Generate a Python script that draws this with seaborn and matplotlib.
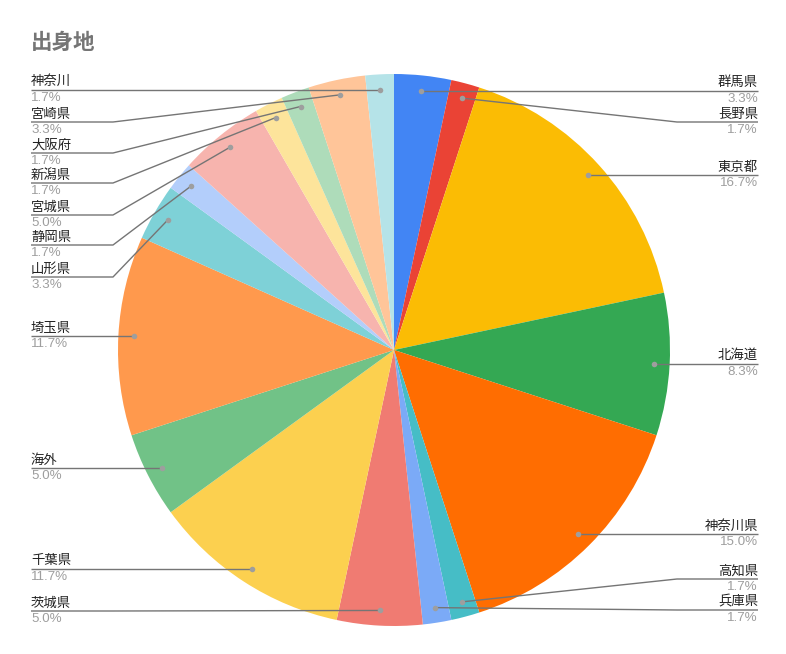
import matplotlib
matplotlib.use("Agg")
import matplotlib.pyplot as plt
import seaborn as sns
import numpy as np

sns.set_theme(style="white")
plt.rcParams['font.family'] = ['Noto Sans CJK JP', 'DejaVu Sans']

# ---- data ----
labels = ["群馬県", "長野県", "東京都", "北海道", "神奈川県", "高知県", "兵庫県", "茨城県",
          "千葉県", "海外", "埼玉県", "山形県", "静岡県", "宮城県", "新潟県", "大阪府",
          "宮崎県", "神奈川"]
counts = [2, 1, 10, 5, 9, 1, 1, 3, 7, 3, 7, 2, 1, 3, 1, 1, 2, 1]
pct_text = ["3.3%", "1.7%", "16.7%", "8.3%", "15.0%", "1.7%", "1.7%", "5.0%",
            "11.7%", "5.0%", "11.7%", "3.3%", "1.7%", "5.0%", "1.7%", "1.7%",
            "3.3%", "1.7%"]
title = "出身地"

# ---- style / layout ----
colors = ["#4285F4", "#EA4335", "#FBBC04", "#34A853", "#FF6D01", "#46BDC6", "#7BAAF7",
          "#F07B72", "#FCD04F", "#71C287", "#FF994D", "#7ED1D7", "#B3CEFB", "#F7B4AE",
          "#FDE49B", "#AEDCBA", "#FFC599", "#B5E3E8"]
# label line y (pixels from top); None = level with the slice's dot
label_y_px = [None, 122, None, None, None, 579, 610, 611, None, None, None, 277, 245,
              215, 183, 153, 122, None]
side = ["R", "R", "R", "R", "R", "R", "R", "L", "L", "L", "L", "L", "L", "L", "L",
        "L", "L", "L"]

W, H = 786, 654
fig = plt.figure(figsize=(W / 100, H / 100), dpi=100)
ax = fig.add_axes([0, 0, 1, 1])

cx, cy, R = 394, H - 350, 276
wedges, _ = ax.pie(counts, colors=colors, startangle=90, counterclock=False,
                   center=(cx, cy), radius=R, frame=True,
                   wedgeprops=dict(linewidth=0))
ax.set_xlim(0, W)
ax.set_ylim(0, H)
ax.axis("off")

line_col = "#757575"
for w, lab, pt, ly, sd in zip(wedges, labels, pct_text, label_y_px, side):
    mid = np.deg2rad((w.theta1 + w.theta2) / 2)
    dx = cx + 0.945 * R * np.cos(mid)
    dy = cy + 0.945 * R * np.sin(mid)
    y = dy if ly is None else H - ly
    if sd == "R":
        bend, edge, ha = 677, 758, "right"
    else:
        bend, edge, ha = 113, 31, "left"
    ax.plot([dx, bend, edge], [dy, y, y], color=line_col, lw=1.0, zorder=3,
            solid_capstyle="butt")
    ax.plot([dx], [dy], "o", color="#9E9E9E", ms=4, zorder=4, mec="none")
    ax.text(edge, y + 1.5, lab, ha=ha, va="bottom", fontsize=9.6, color="#222222")
    ax.text(edge, y - 2, pt, ha=ha, va="top", fontsize=9.6, color="#9E9E9E",
            family=["Liberation Sans", "DejaVu Sans"])

fig.text(31 / W, 1 - 42 / H, title, ha="left", va="center", fontsize=15.5,
         fontweight="bold", color="#757575")

fig.savefig("out.png", dpi=100, facecolor="white")
